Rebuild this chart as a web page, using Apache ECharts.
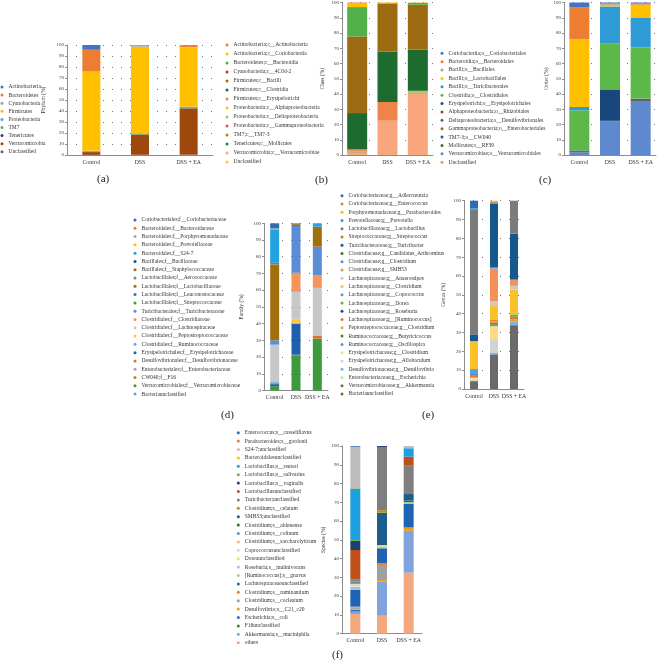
<!DOCTYPE html>
<html><head><meta charset="utf-8">
<script src="https://cdn.jsdelivr.net/npm/echarts@6/dist/echarts.min.js"></script>
<style>html,body{margin:0;padding:0;background:#fff}#c{width:658px;height:665px}</style>
</head><body><div id="c"></div>
<script>
// ---------- categories ----------
const groups = ['Control', 'DSS', 'DSS + EA'];
const panelLetters = ['(a)', '(b)', '(c)', '(d)', '(e)', '(f)'];

// ---------- (a) Phylum ----------
const phylumNames = ['Actinobacteria','Bacteroidetes','Cyanobacteria','Firmicutes','Proteobacteria','TM7','Tenericutes','Verrucomicrobia','Unclassified'];
const phylumControl = [4.3, 19.7, 0.2, 72.0, 0.3, 0.7, 0.2, 2.5, 0.1];
const phylumDSS     = [0.2, 0.5, 0.8, 78.8, 0.5, 0.5, 0.3, 18.2, 0.2];
const phylumEA      = [0.3, 1.5, 0.2, 54.2, 0.3, 1.0, 0.3, 41.9, 0.3];
const phylumColors  = ['#4472C4','#ED7D31','#A5A5A5','#FFC000','#5B9BD5','#70AD47','#264478','#9E480E','#636363'];

// ---------- (b) Class ----------
const classNames = ['Actinobacteria;c__Actinobacteria','Actinobacteria;c__Coriobacteriia','Bacteroidetes;c__Bacteroidia','Cyanobacteria;c__4C0d-2','Firmicutes;c__Bacilli','Firmicutes;c__Clostridia','Firmicutes;c__Erysipelotrichi','Proteobacteria;c__Alphaproteobacteria','Proteobacteria;c__Deltaproteobacteria','Proteobacteria;c__Gammaproteobacteria','TM7;c__TM7-3','Tenericutes;c__Mollicutes','Verrucomicrobia;c__Verrucomicrobiae','Unclassified'];
const classControl = [0.5, 2.5, 19.3, 0.2, 50.0, 23.8, 1.0, 0, 0.3, 0, 0.3, 0.3, 1.8, 0];
const classDSS     = [0, 0.5, 0.5, 0, 31.2, 33.0, 12.3, 0, 0.4, 0, 0.2, 0.2, 21.7, 0];
const classEA      = [0, 0.2, 1.3, 0, 29.5, 26.9, 0.2, 0, 0.8, 0, 0.3, 0.2, 40.6, 0];
const classColors  = ['#ED7D31','#FFC000','#52B04A','#C0392B','#9C6B12','#1E6B30','#F0834A','#FFC000','#8FD16F','#E4572E','#B58B00','#2E7D32','#F8A77D','#FFCA28'];

// ---------- (c) Order ----------
const orderNames = ['Coriobacteriia;o__Coriobacteriales','Bacteroidia;o__Bacteroidales','Bacilli;o__Bacillales','Bacilli;o__Lactobacillales','Bacilli;o__Turicibacterales','Clostridia;o__Clostridiales','Erysipelotrichi;o__Erysipelotrichales','Alphaproteobacteria;o__Rhizobiales','Deltaproteobacteria;o__Desulfovibrionales','Gammaproteobacteria;o__Enterobacteriales','TM7-3;o__CW040','Mollicutes;o__RF39','Verrucomicrobiae;o__Verrucomicrobiales','Unclassified'];
const orderControl = [3.3, 20.6, 0, 44.6, 2.2, 26.3, 0.2, 0, 0.8, 0, 0.2, 0.2, 1.6, 0];
const orderDSS     = [0.6, 0.5, 0.5, 1.0, 24.1, 30.3, 20.6, 0, 0, 0, 0.1, 0.1, 22.2, 0];
const orderEA      = [0.4, 1.0, 0.1, 8.3, 19.8, 33.4, 0, 0, 1.6, 0, 0, 0, 35.4, 0];
const orderColors  = ['#4472C4','#ED7D31','#A5A5A5','#FFC000','#2E9BD6','#5DB84A','#17477C','#9E480E','#636363','#997300','#255E91','#43682B','#5F89CF','#F1975A'];

// ---------- (d) Family ----------
const familyNames = ['Coriobacteriales;f__Coriobacteriaceae','Bacteroidales;f__Bacteroidaceae','Bacteroidales;f__Porphyromonadaceae','Bacteroidales;f__Prevotellaceae','Bacteroidales;f__S24-7','Bacillales;f__Bacillaceae','Bacillales;f__Staphylococcaceae','Lactobacillales;f__Aerococcaceae','Lactobacillales;f__Lactobacillaceae','Lactobacillales;f__Leuconostocaceae','Lactobacillales;f__Streptococcaceae','Turicibacterales;f__Turicibacteraceae','Clostridiales;f__Clostridiaceae','Clostridiales;f__Lachnospiraceae','Clostridiales;f__Peptostreptococcaceae','Clostridiales;f__Ruminococcaceae','Erysipelotrichales;f__Erysipelotrichaceae','Desulfovibrionales;f__Desulfovibrionaceae','Enterobacteriales;f__Enterobacteriaceae','CW040;f__F16','Verrucomicrobiales;f__Verrucomicrobiaceae','Bacteriaunclassified'];
const familyControl = [3.0, 0, 1.0, 0, 19.6, 0.5, 0, 0.5, 45.4, 0, 0, 2.6, 0, 22.4, 0, 1.2, 1.2, 0, 0, 0, 2.6, 0];
const familyDSS     = [0.3, 0, 0.2, 0, 0, 0, 0, 0, 1.1, 0, 0, 28.0, 11.4, 16.4, 2.6, 0, 18.6, 0.8, 0, 0, 20.6, 0];
const familyEA      = [0, 0, 0, 0, 2.0, 0, 0, 0, 12.0, 0, 0, 17.0, 7.6, 28.8, 0, 0, 0, 1.6, 0, 0, 31.0, 0];
const familyColors  = ['#2F6CB5','#ED7D31','#A5A5A5','#FFC000','#22A2E0','#1F4E8C','#C55A11','#7F7F7F','#A0700E','#4A6FA5','#3E9B3E','#5B8DD6','#F5935A','#C8C8C8','#F2C744','#6EA6D8','#1F5FB0','#E0702A','#A5A5A5','#B8860B','#3D9A3D','#5BA3D9'];

// ---------- (e) Genus ----------
const genusNames = ['Coriobacteriaceae;g__Adlercreutzia','Coriobacteriaceae;g__Enterococcus','Porphyromonadaceae;g__Parabacteroides','Prevotellaceae;g__Prevotella','Lactobacillaceae;g__Lactobacillus','Streptococcaceae;g__Streptococcus','Turicibacteraceae;g__Turicibacter','Clostridiaceae;g__Candidatus_Arthromitus','Clostridiaceae;g__Clostridium','Clostridiaceae;g__SMB53','Lachnospiraceae;g__Anaerostipes','Lachnospiraceae;g__Clostridium','Lachnospiraceae;g__Coprococcus','Lachnospiraceae;g__Dorea','Lachnospiraceae;g__Roseburia','Lachnospiraceae;g__[Ruminococcus]','Peptostreptococcaceae;g__Clostridium','Ruminococcaceae;g__Butyricicoccus','Ruminococcaceae;g__Oscillospira','Erysipelotrichaceae;g__Clostridium','Erysipelotrichaceae;g__Allobaculum','Desulfovibrionaceae;g__Desulfovibrio','Enterobacteriaceae;g__Escherichia','Verrucomicrobiaceae;g__Akkermansia','Bacteriaunclassified'];
const genusControl = [4.0, 0, 0, 0.5, 66.5, 0, 3.6, 0, 0, 0, 0, 14.8, 2.8, 0, 0.5, 1.3, 0, 0, 0, 0.5, 0.6, 0, 0.7, 4.2, 0];
const genusDSS     = [0, 0, 0.8, 0, 0.7, 0, 33.7, 0, 0.8, 17.4, 2.1, 7.9, 0, 0, 0, 0.8, 0.8, 0.8, 0.8, 6.9, 7.1, 1.0, 0, 18.4, 0];
const genusEA      = [0, 0, 0, 0, 17.5, 0, 24.4, 0, 0, 3.3, 2.0, 13.2, 0, 1.3, 0, 1.5, 0.8, 0, 0, 0, 0, 2.1, 0, 33.9, 0];
const genusColors  = ['#2F6CB5','#ED7D31','#FFC000','#29A3DD','#7B7B7B','#B8860B','#15588E','#2E7D32','#5B8FD4','#F4915A','#C9C9C9','#FCC02A','#4FA3E0','#70AD47','#1F4E8C','#E9762F','#F0A030','#3A8A3A','#6E8FC0','#FFD98A','#D3D3D3','#7FB2E5','#C5E0B4','#6A6A6A','#8B6914'];

// ---------- (f) Species ----------
const speciesNames = ['Enterococcus;s__casseliflavus','Parabacteroides;s__gordonii','S24-7;unclassified','Bacteroidalesunclassified','Lactobacillus;s__reuteri','Lactobacillus;s__salivarius','Lactobacillus;s__vaginalis','Lactobacillusunclassified','Turicibacter;unclassified','Clostridium;s__celatum','SMB53;unclassified','Clostridium;s__aldenense','Clostridium;s__colinum','Clostridium;s__saccharolyticum','Coprococcusunclassified','Doreaunclassified','Roseburia;s__inulinivorans','[Ruminococcus];s__gnavus','Lachnospiraceaeunclassified','Clostridium;s__ruminantium','Clostridium;s__cocleatum','Desulfovibrio;s__C21_c20','Escherichia;s__coli','F16unclassified','Akkermansia;s__muciniphila','others'];
const speciesControl = [0.4, 0, 22.0, 0.2, 27.5, 0.5, 4.8, 15.6, 1.2, 0.3, 0.3, 0.3, 0.4, 0, 1.2, 0.3, 1.2, 0.5, 8.9, 0.4, 0.8, 0.4, 0.8, 0.3, 1.2, 10.5];
const speciesDSS     = [0, 0, 0, 0, 0, 0, 0.5, 0.5, 33.2, 1.3, 17.3, 0, 0, 0, 0, 0.8, 0, 0.9, 8.0, 0.9, 8.0, 0.9, 0, 0, 18.1, 9.6];
const speciesEA      = [0, 0, 1.2, 0, 4.5, 0, 0, 4.8, 15.1, 0, 3.5, 0.8, 0, 0, 0, 0, 0, 1.0, 12.5, 0, 0, 1.8, 0, 0, 22.3, 32.5];
const speciesColors  = ['#2E6DB4','#ED7D31','#BDBDBD','#FFC000','#1E9FE0','#70AD47','#1F3F70','#C0501A','#7F7F7F','#BF9000','#1B5E8C','#43682B','#698ED0','#F4B183','#D9D9D9','#FFD966','#9DC3E6','#A9D18E','#1F64B4','#ED7D31','#A0A0A0','#E6A020','#2E75B6','#3A7D3A','#7FA3DA','#F5A77E'];

// ---------- layout (positions / styles) ----------
const FONT = 'Liberation Serif, Times New Roman, serif';
const panels = [
  {id:'a', names:phylumNames, colors:phylumColors, vals:[phylumControl, phylumDSS, phylumEA], yName:'Phylum (%)',
   grid:{left:67, top:45, width:146, height:110}, nameGap:20, barWidth:18, lg:{left:0.5, top:83.5, gap:1.1}, lab:[105,181], dots:true},
  {id:'b', names:classNames, colors:classColors, vals:[classControl, classDSS, classEA], yName:'Class (%)',
   grid:{left:342, top:2, width:91, height:153}, nameGap:16, barWidth:20, lg:{left:225.5, top:41.5, gap:2.0}, lab:[323,182], dots:true},
  {id:'c', names:orderNames, colors:orderColors, vals:[orderControl, orderDSS, orderEA], yName:'Order (%)',
   grid:{left:564, top:2, width:92, height:153}, nameGap:11, barWidth:20, lg:{left:440.5, top:49.8, gap:1.38}, lab:[547,182], dots:true},
  {id:'d', names:familyNames, colors:familyColors, vals:[familyControl, familyDSS, familyEA], yName:'Family (%)',
   grid:{left:264, top:223.3, width:64, height:167.2}, nameGap:19, barWidth:9, lg:{left:133.5, top:216.5, gap:1.29}, lab:[229,417], dots:true},
  {id:'e', names:genusNames, colors:genusColors, vals:[genusControl, genusDSS, genusEA], yName:'Genus (%)',
   grid:{left:464, top:200.7, width:60, height:188.3}, nameGap:17, barWidth:8, lg:{left:340.5, top:192.2, gap:1.26}, lab:[430,417], dots:true},
  {id:'f', names:speciesNames, colors:speciesColors, vals:[speciesControl, speciesDSS, speciesEA], yName:'Species (%)',
   grid:{left:342, top:446, width:80, height:187.7}, nameGap:15, barWidth:10, lg:{left:236.8, top:429.2, gap:1.4}, lab:[340,657], dots:false}
];

const option = {animation:false, backgroundColor:'#fff', grid:[], xAxis:[], yAxis:[], series:[], legend:[], graphic:[]};
panels.forEach((p, i) => {
  option.grid.push(Object.assign({containLabel:false}, p.grid));
  option.xAxis.push({type:'category', gridIndex:i, data:groups,
    axisLine:{lineStyle:{color:'#8c8c8c', width:1}}, axisTick:{show:false},
    axisLabel:{fontFamily:FONT, fontSize:5.8, color:'#333', margin:4, interval:0}});
  option.yAxis.push({type:'value', gridIndex:i, min:0, max:100, interval:10,
    name:p.yName, nameLocation:'middle', nameGap:p.nameGap, nameRotate:90,
    nameTextStyle:{fontFamily:FONT, fontSize:5.5, color:'#333'},
    axisLine:{show:true, lineStyle:{color:'#8c8c8c', width:1}},
    axisTick:{show:true, length:2, lineStyle:{color:'#8c8c8c'}},
    axisLabel:{fontFamily:FONT, fontSize:5, color:'#333', margin:3},
    splitLine:{show:p.dots, lineStyle:{color:'#777', width:1, type:[1, 8]}}});
  for (let k = p.names.length - 1; k >= 0; k--) {
    option.series.push({type:'bar', name:p.id + '|' + p.names[k], stack:'s' + p.id,
      xAxisIndex:i, yAxisIndex:i, barWidth:p.barWidth,
      itemStyle:{color:p.colors[k]},
      data:p.vals.map(v => v[k])});
  }
  option.legend.push({orient:'vertical', left:p.lg.left, top:p.lg.top, padding:0, itemGap:p.lg.gap,
    itemWidth:3, itemHeight:3, icon:'circle', selectedMode:false,
    data:p.names.map(n => p.id + '|' + n),
    formatter: name => name.split('|')[1],
    textStyle:{fontFamily:FONT, fontSize:5.5, lineHeight:7, color:'#333'}});
  option.graphic.push({type:'text', left:p.lab[0] - 8, top:p.lab[1] - 7,
    style:{text:panelLetters[i], font:'11px ' + FONT, fill:'#222'}});
});

const chart = echarts.init(document.getElementById('c'), null, {renderer:'canvas'});
chart.setOption(option);
</script></body></html>
